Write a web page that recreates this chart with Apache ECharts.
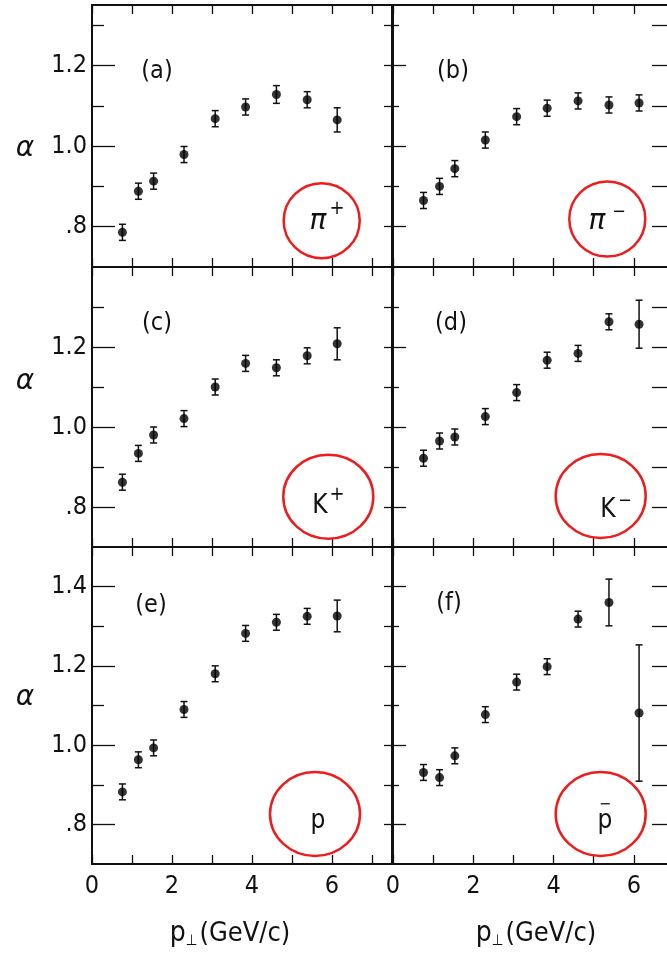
<!DOCTYPE html>
<html><head><meta charset="utf-8">
<script src="https://cdn.jsdelivr.net/npm/echarts@6/dist/echarts.min.js"></script>
<style>html,body{margin:0;padding:0;background:#fff;}#c{width:667px;height:956px;}</style>
</head><body><div id="c"></div>
<script>
// ---- data ----
const pT = [0.76, 1.16, 1.54, 2.3, 3.08, 3.84, 4.61, 5.38, 6.13];
const piPlus     = [0.786, 0.888, 0.913, 0.979, 1.068, 1.097, 1.128, 1.115, 1.065];
const piPlusErr  = [0.02, 0.02, 0.02, 0.02, 0.02, 0.02, 0.022, 0.02, 0.03];
const piMinus    = [0.865, 0.900, 0.944, 1.015, 1.073, 1.094, 1.112, 1.102, 1.107];
const piMinusErr = [0.02, 0.02, 0.02, 0.02, 0.02, 0.02, 0.02, 0.02, 0.02];
const kPlus      = [0.862, 0.934, 0.980, 1.021, 1.100, 1.159, 1.148, 1.178, 1.208];
const kPlusErr   = [0.02, 0.02, 0.02, 0.02, 0.02, 0.02, 0.02, 0.02, 0.04];
const kMinus     = [0.922, 0.965, 0.975, 1.026, 1.086, 1.167, 1.184, 1.263, 1.257];
const kMinusErr  = [0.02, 0.02, 0.02, 0.02, 0.02, 0.02, 0.02, 0.02, 0.06];
const proton     = [0.882, 0.963, 0.993, 1.090, 1.180, 1.282, 1.310, 1.325, 1.326];
const protonErr  = [0.02, 0.02, 0.02, 0.02, 0.02, 0.02, 0.02, 0.02, 0.04];
const pbar       = [0.931, 0.918, 0.973, 1.077, 1.159, 1.198, 1.318, 1.360, 1.081];
const pbarErr    = [0.02, 0.02, 0.02, 0.02, 0.02, 0.02, 0.02, 0.059, 0.172];
const xLabelTicks = [0, 2, 4, 6];
const yMajorTicks = [[0.8, 1.0, 1.2], [0.8, 1.0, 1.2], [0.8, 1.0, 1.2, 1.4]];
const yMinorTicks = [[0.9, 1.1, 1.3], [0.9, 1.1, 1.3], [0.9, 1.1, 1.3]];
const yRightTicks = [[0.8, 0.9, 1.0, 1.1, 1.2, 1.3], [0.8, 0.9, 1.0, 1.1, 1.2, 1.3], [0.8, 0.9, 1.0, 1.1, 1.2, 1.3, 1.4]];
const yMin = 0.7;
const yMaxRows = [1.35, 1.4, 1.5];
const xMaxCols = [7.5, 7];
const panelLetters = ['(a)', '(b)', '(c)', '(d)', '(e)', '(f)'];

// ---- layout ----
const rowTop = [5, 267, 547], rowH = [262, 280, 317];
const colLeft = [92, 393], colW = [300, 281];
const panels = [
  {v: piPlus, e: piPlusErr, r: 0, c: 0},
  {v: piMinus, e: piMinusErr, r: 0, c: 1},
  {v: kPlus, e: kPlusErr, r: 1, c: 0},
  {v: kMinus, e: kMinusErr, r: 1, c: 1},
  {v: proton, e: protonErr, r: 2, c: 0},
  {v: pbar, e: pbarErr, r: 2, c: 1}
];
const INK = '#111';
const FONT = '"DejaVu Sans Condensed", "DejaVu Sans", sans-serif';
const lineStyle = {color: INK, width: 2};

const grid = [], xAxis = [], yAxis = [], series = [];
panels.forEach((p, i) => {
  grid.push({left: colLeft[p.c], top: rowTop[p.r], width: colW[p.c], height: rowH[p.r], containLabel: false, outerBoundsMode: 'none'});
  const bottomRow = p.r === 2;
  // bottom x
  xAxis.push({gridIndex: i, type: 'value', position: 'bottom', min: 0, max: xMaxCols[p.c], interval: 1,
    axisLine: {show: true, onZero: false, lineStyle},
    axisTick: {show: true, inside: true, length: 9, interval: 0, lineStyle: {color: INK, width: 1.3}},
    axisLabel: bottomRow ? {show: true, customValues: xLabelTicks, color: INK, fontFamily: FONT, fontSize: 25, margin: 10} : {show: false},
    splitLine: {show: false}});
  // top x
  xAxis.push({gridIndex: i, type: 'value', position: 'top', min: 0, max: xMaxCols[p.c], interval: 1,
    axisLine: {show: true, onZero: false, lineStyle},
    axisTick: {show: true, inside: true, length: 9, lineStyle: {color: INK, width: 1.3}},
    axisLabel: {show: false}, splitLine: {show: false}});
  const yMax = yMaxRows[p.r];
  const yi = yAxis.length;
  // left major (labels on left column)
  yAxis.push({gridIndex: i, type: 'value', position: 'left', min: yMin, max: yMax,
    axisLine: {show: true, onZero: false, lineStyle},
    axisTick: {show: true, inside: true, customValues: yMajorTicks[p.r], length: p.c === 0 ? 23 : 13, lineStyle: {color: INK, width: 1.3}},
    axisLabel: p.c === 0 ? {show: true, customValues: yMajorTicks[p.r], color: INK, fontFamily: FONT, fontSize: 25, margin: 5,
      formatter: v => (Math.abs(v - 0.8) < 1e-6 ? '.8' : v.toFixed(1))} : {show: false},
    splitLine: {show: false}});
  // left minor
  yAxis.push({gridIndex: i, type: 'value', position: 'left', min: yMin, max: yMax,
    axisLine: {show: false},
    axisTick: {show: true, inside: true, customValues: yMinorTicks[p.r], length: p.c === 0 ? 12 : 6, lineStyle: {color: INK, width: 1.3}},
    axisLabel: {show: false}, splitLine: {show: false}});
  // right
  yAxis.push({gridIndex: i, type: 'value', position: 'right', min: yMin, max: yMax,
    axisLine: {show: true, onZero: false, lineStyle},
    axisTick: {show: true, inside: true, customValues: yRightTicks[p.r], length: p.c === 0 ? 8 : 22, lineStyle: {color: INK, width: 1.3}},
    axisLabel: {show: false}, splitLine: {show: false}});

  const pts = pT.map((x, k) => [x, p.v[k], p.e[k]]);
  series.push({type: 'custom', xAxisIndex: 2 * i, yAxisIndex: yi, data: pts, silent: true, z: 3,
    renderItem: (params, api) => {
      const x = api.value(0), y = api.value(1), e = api.value(2);
      const t = api.coord([x, y + e]), b = api.coord([x, y - e]);
      const hw = 3.5, st = {stroke: INK, lineWidth: 1.5};
      return {type: 'group', children: [
        {type: 'line', shape: {x1: t[0], y1: t[1], x2: b[0], y2: b[1]}, style: st},
        {type: 'line', shape: {x1: t[0] - hw, y1: t[1], x2: t[0] + hw, y2: t[1]}, style: st},
        {type: 'line', shape: {x1: b[0] - hw, y1: b[1], x2: b[0] + hw, y2: b[1]}, style: st}
      ]};
    }});
  series.push({type: 'scatter', xAxisIndex: 2 * i, yAxisIndex: yi, data: pts.map(d => [d[0], d[1]]),
    symbol: 'circle', symbolSize: 9, itemStyle: {color: '#000'}, silent: true, z: 4});
});

const RED = '#ee1c1c';
const ell = (cx, cy, rx, ry) => ({type: 'ellipse', shape: {cx, cy, rx, ry}, style: {fill: null, stroke: RED, lineWidth: 2.5}, z: 10});
const txt = (x, y, text, size, extra) => ({type: 'text', x, y, z: 11,
  style: Object.assign({text, font: size + 'px ' + FONT, fill: INK, align: 'center', verticalAlign: 'middle'}, extra || {})});
const ITAL = (size) => 'italic ' + size + 'px "DejaVu Sans", sans-serif';

const graphic = [
  ell(321.7, 220.7, 38, 37.5), ell(607.3, 219, 38, 37.5),
  ell(328.3, 496.7, 45, 42), ell(600.7, 496, 45, 42),
  ell(315, 814, 45, 42), ell(600.7, 814, 45, 42),
  // panel letters
  txt(157, 71, panelLetters[0], 25), txt(453, 71, panelLetters[1], 25),
  txt(157, 323, panelLetters[2], 25), txt(451, 323, panelLetters[3], 25),
  txt(151, 605, panelLetters[4], 25), txt(449, 603, panelLetters[5], 25),
  // alpha axis titles
  {type: 'text', x: 25, y: 149, z: 11, style: {text: 'α', font: ITAL(28), fill: INK, align: 'center', verticalAlign: 'middle'}},
  {type: 'text', x: 25, y: 382, z: 11, style: {text: 'α', font: ITAL(28), fill: INK, align: 'center', verticalAlign: 'middle'}},
  {type: 'text', x: 25, y: 698, z: 11, style: {text: 'α', font: ITAL(28), fill: INK, align: 'center', verticalAlign: 'middle'}},
  // particle labels
  {type: 'text', x: 318, y: 222, z: 11, style: {text: 'π', font: ITAL(28), fill: INK, align: 'center', verticalAlign: 'middle'}},
  txt(337, 209, '+', 20),
  {type: 'text', x: 597, y: 222, z: 11, style: {text: 'π', font: ITAL(28), fill: INK, align: 'center', verticalAlign: 'middle'}},
  txt(619, 212, '−', 18),
  txt(320, 506, 'K', 26), txt(337, 495, '+', 20),
  txt(608, 510, 'K', 26), txt(625, 501, '−', 18),
  txt(318, 821, 'p', 26),
  txt(605, 821, 'p', 26), txt(605, 805, '−', 16),
  // x-axis titles
  {type: 'text', x: 230, y: 934, z: 11, style: {text: '{p|p}{s|⊥}{t|(GeV/c)}', fill: INK, align: 'center', verticalAlign: 'middle',
    rich: {p: {font: '28px ' + FONT, fill: INK}, s: {font: '15px ' + FONT, fill: INK, padding: [14, 2, 0, 0]}, t: {font: '27px ' + FONT, fill: INK}}}},
  {type: 'text', x: 536, y: 934, z: 11, style: {text: '{p|p}{s|⊥}{t|(GeV/c)}', fill: INK, align: 'center', verticalAlign: 'middle',
    rich: {p: {font: '28px ' + FONT, fill: INK}, s: {font: '15px ' + FONT, fill: INK, padding: [14, 2, 0, 0]}, t: {font: '27px ' + FONT, fill: INK}}}}
];

const chart = echarts.init(document.getElementById('c'), null, {renderer: 'canvas'});
chart.setOption({animation: false, backgroundColor: '#fff', grid, xAxis, yAxis, series, graphic});
</script></body></html>
